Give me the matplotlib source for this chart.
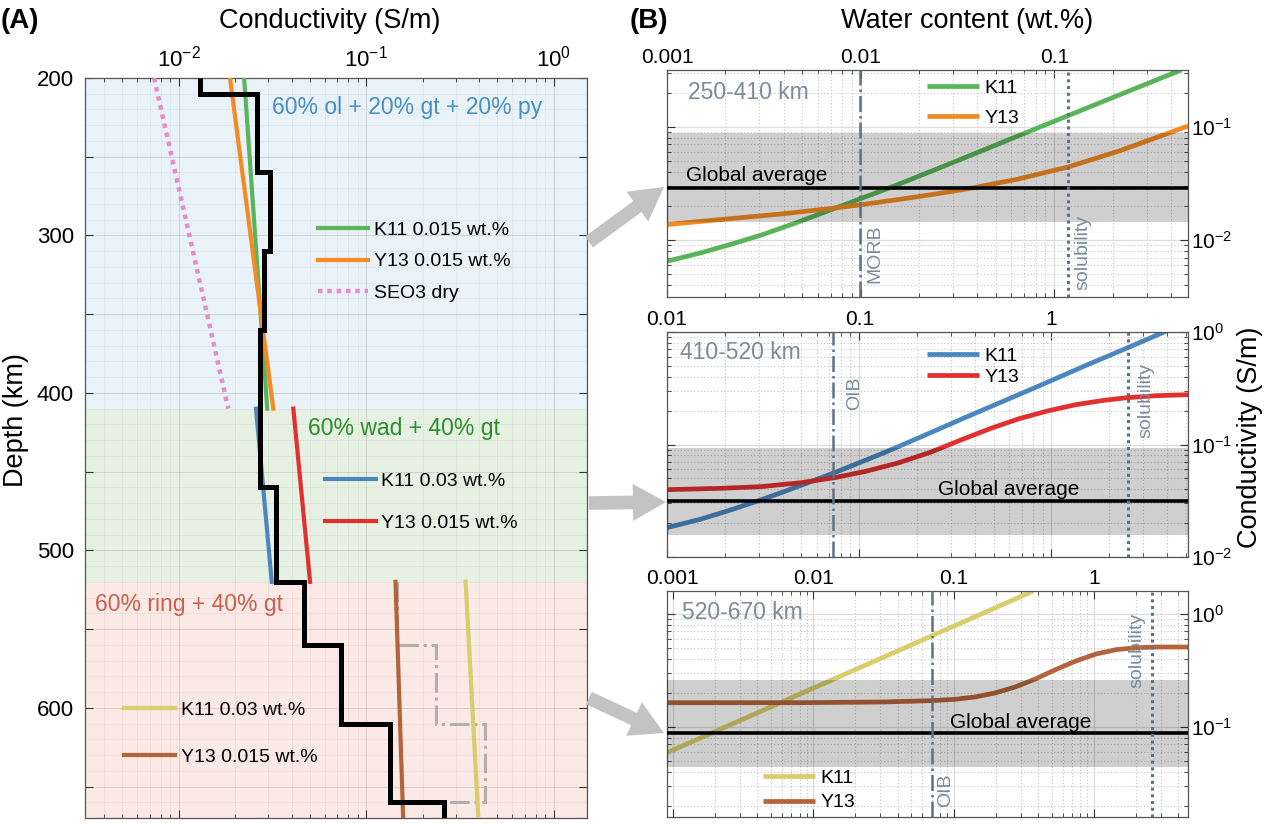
import numpy as np
import matplotlib
matplotlib.use("Agg")
import matplotlib.pyplot as plt
from matplotlib.ticker import MultipleLocator, FuncFormatter, LogLocator, NullFormatter
from matplotlib.patches import FancyArrowPatch

plt.rcParams["font.family"] = ["Liberation Sans", "DejaVu Sans"]
plt.rcParams["mathtext.fontset"] = "custom"
plt.rcParams["mathtext.rm"] = "Liberation Sans"
plt.rcParams["mathtext.it"] = "Liberation Sans:italic"
plt.rcParams["mathtext.bf"] = "Liberation Sans:bold"

W, H = 1269, 824

# ---------------- panel A: conductivity vs depth ----------------
BLACK_EDGES = [200, 210, 260, 310, 360, 460, 520, 560, 610, 660, 670]
BLACK_COND = [0.0129, 0.0261, 0.0307, 0.0285, 0.0272, 0.0331, 0.0466, 0.0734, 0.134, 0.258]
ALT_EDGES = [520, 560, 610, 660, 670]
ALT_COND = [0.146, 0.234, 0.428, 0.264]

OL_DEPTH = [200, 410]
OL_K11 = [0.0223, 0.0296]
OL_Y13 = [0.01875, 0.0319]
OL_SEO3 = [0.00738, 0.01836]
WAD_DEPTH = [410, 520]
WAD_K11 = [0.0258, 0.0313]
WAD_Y13 = [0.0408, 0.0501]
RING_DEPTH = [520, 670]
RING_K11 = [0.338, 0.395]
RING_Y13 = [0.143, 0.157]

LAYERS = [(200, 410, "#e9f1f9"), (410, 520, "#e6f1e3"), (520, 670, "#fbe9e6")]

# ---------------- panel B: conductivity vs water content ----------------
TOP_W_K11 = [0.001, 0.001488, 0.002057, 0.003086, 0.004628, 0.007229, 0.00992, 0.01383,
             0.02343, 0.04303, 0.06721, 0.1186, 0.2178, 0.4518]
TOP_C_K11 = [0.00653, 0.00773, 0.00903, 0.01114, 0.01422, 0.0189, 0.02317, 0.02858,
             0.04091, 0.06223, 0.085, 0.1259, 0.1916, 0.3162]
TOP_W_Y13 = [0.001, 0.002057, 0.003781, 0.007229, 0.00992, 0.01562, 0.02343, 0.0381,
             0.06457, 0.1186, 0.2178, 0.4898]
TOP_C_Y13 = [0.01375, 0.01542, 0.01696, 0.01916, 0.0205, 0.02284, 0.02528, 0.02896,
             0.03453, 0.04436, 0.06141, 0.1014]

MID_W_K11 = [0.01, 0.01487, 0.02086, 0.02926, 0.04106, 0.05488, 0.07592, 0.1311, 0.2127,
             0.3449, 0.5597, 0.9079, 1.473, 2.472, 3.969]
MID_C_K11 = [0.01823, 0.02162, 0.02581, 0.03124, 0.03835, 0.04611, 0.05695, 0.08288, 0.1182,
             0.1697, 0.2419, 0.3449, 0.4953, 0.7208, 1.021]
MID_W_Y13 = [0.01, 0.01894, 0.03072, 0.04983, 0.07592, 0.108, 0.1591, 0.2342, 0.3449, 0.4841,
             0.6791, 0.9528, 1.337, 1.876, 2.472, 3.518, 5.13]
MID_C_Y13 = [0.03968, 0.04077, 0.04218, 0.04577, 0.05105, 0.05774, 0.06849, 0.08518, 0.1112,
             0.1392, 0.1697, 0.1986, 0.226, 0.247, 0.2607, 0.2716, 0.2773]

BOT_W_K11 = [0.000908, 0.003, 0.01, 0.03, 0.1, 0.37]
BOT_C_K11 = [0.0587, 0.113, 0.219, 0.399, 0.773, 1.585]
BOT_W_Y13 = [0.000908, 0.0082, 0.03084, 0.06922, 0.1017, 0.1416, 0.1972, 0.2747, 0.3826,
             0.5328, 0.7423, 1.034, 1.44, 2.005, 2.793, 4.683]
BOT_C_Y13 = [0.1628, 0.1628, 0.1651, 0.1696, 0.1743, 0.1827, 0.1983, 0.2241, 0.2637,
             0.3191, 0.3805, 0.4389, 0.4795, 0.4994, 0.5062, 0.5062]

RANGES = ["250-410 km", "410-520 km", "520-670 km"]
BANDS = [(0.0145, 0.0873), (0.0156, 0.093), (0.044, 0.257)]
GLOBAL_AVG = [0.029, 0.0313, 0.0877]
REF_NAMES = ["MORB", "OIB", "OIB"]
REF_WATER = [0.0099, 0.073, 0.07]
SOLUBILITY = [0.118, 2.5, 2.6]
XLIMS = [(0.001, 0.49), (0.01, 5.13), (0.000908, 4.683)]
YLIMS = [(10 ** -2.5, 10 ** -0.5), (0.01, 1.0), (10 ** -1.8, 10 ** 0.2)]

C = dict(k11_ol="#5ab55a", y13_ol="#f58a22", seo3="#e88cc4",
         k11_wad="#4a87c0", y13_wad="#e0302f",
         k11_ring="#d9cd6c", y13_ring="#b3643b",
         alt="#b5adad", ref="#5f7186", reftxt="#7c8a99")


def fig_box(left, top, right, bottom):
    return [left / W, 1 - bottom / H, (right - left) / W, (bottom - top) / H]


fig = plt.figure(figsize=(W / 100, H / 100), dpi=100)

# ======================= panel A =======================
axA = fig.add_axes(fig_box(85, 78, 587, 818))
for top, bot, col in LAYERS:
    axA.axhspan(top, bot, color=col, lw=0, zorder=0.2)

axA.stairs(ALT_COND, ALT_EDGES, orientation="horizontal", baseline=None,
           color=C["alt"], lw=2.2, ls="-.", zorder=2)
l_k11o, = axA.plot(OL_K11, OL_DEPTH, color=C["k11_ol"], lw=3, zorder=3)
l_y13o, = axA.plot(OL_Y13, OL_DEPTH, color=C["y13_ol"], lw=3, zorder=3)
l_seo3, = axA.plot(OL_SEO3, OL_DEPTH, color=C["seo3"], lw=3.2, ls=(0, (1, 1.1)), zorder=3)
l_k11w, = axA.plot(WAD_K11, WAD_DEPTH, color=C["k11_wad"], lw=3, zorder=3)
l_y13w, = axA.plot(WAD_Y13, WAD_DEPTH, color=C["y13_wad"], lw=3, zorder=3)
l_k11r, = axA.plot(RING_K11, RING_DEPTH, color=C["k11_ring"], lw=3, zorder=3)
l_y13r, = axA.plot(RING_Y13, RING_DEPTH, color=C["y13_ring"], lw=3, zorder=3)
axA.stairs(BLACK_COND, BLACK_EDGES, orientation="horizontal", baseline=None,
           color="black", lw=3.6, zorder=4)

axA.set_xscale("log")
axA.set_xlim(10 ** -2.5, 1.5)
axA.set_ylim(670, 200)
axA.xaxis.set_label_position("top")
axA.yaxis.set_major_locator(MultipleLocator(50))
axA.yaxis.set_minor_locator(MultipleLocator(10))
axA.yaxis.set_major_formatter(FuncFormatter(lambda v, p: f"{v:.0f}" if v % 100 == 0 else ""))
axA.tick_params(axis="both", which="both", direction="in", top=True, bottom=True,
                left=True, right=True, labeltop=True, labelbottom=False,
                labelsize=16, colors="#333333", labelcolor="black")
axA.tick_params(axis="x", which="major", length=6, pad=5)
axA.tick_params(axis="x", which="minor", length=3)
axA.tick_params(axis="y", which="major", length=6, pad=8)
axA.tick_params(axis="y", which="minor", length=0)
axA.set_axisbelow(True)
axA.grid(which="major", color="black", alpha=0.12, lw=0.7)
axA.grid(which="minor", color="black", alpha=0.06, lw=0.5)
for sp in axA.spines.values():
    sp.set_color("#555555")
    sp.set_linewidth(0.9)

axA.text(0.3725, 0.9595, "60% ol + 20% gt + 20% py", transform=axA.transAxes,
         color="#4a8fc2", fontsize=16.5, va="center", ha="left")
axA.text(0.444, 0.527, "60% wad + 40% gt", transform=axA.transAxes,
         color="#2a8f2a", fontsize=16.5, va="center", ha="left")
axA.text(0.02, 0.288, "60% ring + 40% gt", transform=axA.transAxes,
         color="#c9604d", fontsize=16.5, va="center", ha="left")

leg_kw = dict(frameon=False, fontsize=14, loc="center left", borderpad=0,
              borderaxespad=0, handletextpad=0.3)
legA1 = axA.legend([l_k11o, l_y13o, l_seo3], ["K11 0.015 wt.%", "Y13 0.015 wt.%", "SEO3 dry"],
                   bbox_to_anchor=(0.464, 0.752), handlelength=2.6, labelspacing=0.72, **leg_kw)
axA.add_artist(legA1)
legA2 = axA.legend([l_k11w, l_y13w], ["K11 0.03 wt.%", "Y13 0.015 wt.%"],
                   bbox_to_anchor=(0.478, 0.427), handlelength=2.6, labelspacing=1.28, **leg_kw)
axA.add_artist(legA2)
axA.legend([l_k11r, l_y13r], ["K11 0.03 wt.%", "Y13 0.015 wt.%"],
           bbox_to_anchor=(0.078, 0.114), handlelength=2.6, labelspacing=1.5, **leg_kw)

# ======================= panel B =======================
boxes = [(70, 297), (332, 557), (591, 817)]
curves = [
    ((TOP_W_K11, TOP_C_K11, C["k11_ol"]), (TOP_W_Y13, TOP_C_Y13, C["y13_ol"])),
    ((MID_W_K11, MID_C_K11, C["k11_wad"]), (MID_W_Y13, MID_C_Y13, C["y13_wad"])),
    ((BOT_W_K11, BOT_C_K11, C["k11_ring"]), (BOT_W_Y13, BOT_C_Y13, C["y13_ring"])),
]
ref_txt = [(0.0107, 0.062, "bottom", "left"), (0.0853, 0.80, "top", "left"), (0.0762, 0.044, "bottom", "left")]
sol_txt = [(0.1276, 0.03, "bottom", "left"), (2.8, 0.862, "top", "left"), (2.32, 0.903, "top", "right")]
range_pos = [(0.04, 0.899), (0.025, 0.907), (0.029, 0.903)]
avg_pos = [(0.036, 0.537, "left"), (0.655, 0.302, "center"), (0.678, 0.42, "center")]
leg_pos = [((0.499, 0.855), 0.62), ((0.499, 0.846), 0.2), ((0.184, 0.118), 0.36)]

for i, (top, bot) in enumerate(boxes):
    ax = fig.add_axes(fig_box(667, top, 1188, bot))
    ax.set_xscale("log")
    ax.set_yscale("log")
    ax.set_xlim(*XLIMS[i])
    ax.set_ylim(*YLIMS[i])
    handles = []
    for wx, cy, col in curves[i]:
        h, = ax.plot(wx, cy, color=col, lw=3.4, zorder=2, solid_capstyle="butt",
                     solid_joinstyle="round")
        handles.append(h)
    ax.axhspan(*BANDS[i], color="black", alpha=0.19, lw=0, zorder=3)
    ax.axhline(GLOBAL_AVG[i], color="black", lw=2.6, zorder=4)
    ax.axvline(REF_WATER[i], color=C["ref"], lw=1.8, ls="-.", zorder=4)
    ax.axvline(SOLUBILITY[i], color=C["ref"], lw=2.2, ls=(0, (1, 1.2)), zorder=4)

    tx = ax.get_xaxis_transform()
    x, y, va, ha = ref_txt[i]
    ax.text(x, y, REF_NAMES[i], transform=tx, rotation=90, va=va, ha=ha,
            color=C["reftxt"], fontsize=14, zorder=5)
    x, y, va, ha = sol_txt[i]
    ax.text(x, y, "solubility", transform=tx, rotation=90, va=va, ha=ha,
            color=C["reftxt"], fontsize=14, zorder=5)
    ax.text(*range_pos[i], RANGES[i], transform=ax.transAxes, color=C["reftxt"],
            fontsize=16.5, va="center", ha="left", zorder=5)
    x, y, ha = avg_pos[i]
    ax.text(x, y, "Global average", transform=ax.transAxes, fontsize=15,
            va="center", ha=ha, zorder=5)
    anchor, ls = leg_pos[i]
    ax.legend(handles, ["K11", "Y13"], frameon=False, fontsize=14, loc="center left",
              bbox_to_anchor=anchor, borderpad=0, borderaxespad=0, handlelength=2.7,
              handletextpad=0.25, labelspacing=ls)

    ax.xaxis.set_major_locator(LogLocator(base=10, numticks=12))
    ax.xaxis.set_minor_locator(LogLocator(base=10, subs=np.arange(2, 10), numticks=12))
    ax.xaxis.set_major_formatter(FuncFormatter(lambda v, p: f"{v:g}"))
    ax.xaxis.set_minor_formatter(NullFormatter())
    ax.yaxis.set_minor_formatter(NullFormatter())
    ax.tick_params(axis="both", which="both", direction="in", top=True, bottom=True,
                   left=True, right=True, labeltop=True, labelbottom=False,
                   labelleft=False, labelright=True, labelsize=15,
                   colors="#333333", labelcolor="black")
    ax.tick_params(axis="both", which="major", length=6, pad=2)
    ax.tick_params(axis="both", which="minor", length=3)
    ax.set_axisbelow(True)
    ax.grid(which="major", color="#dddddd", lw=0.9, ls="-")
    ax.grid(which="minor", color="#c4c4c4", lw=0.8, ls=(0, (1, 2)))
    for sp in ax.spines.values():
        sp.set_color("#555555")
        sp.set_linewidth(0.9)

# ---------------- figure labels and arrows ----------------
fig.text(1 / W, 1 - 21 / H, "(A)", fontsize=20, fontweight="bold", va="center", ha="left")
fig.text(630 / W, 1 - 21 / H, "(B)", fontsize=20, fontweight="bold", va="center", ha="left")
fig.text(330 / W, 1 - 21 / H, "Conductivity (S/m)", fontsize=19.5, va="center", ha="center")
fig.text(967 / W, 1 - 21 / H, "Water content (wt.%)", fontsize=19.5, va="center", ha="center")
fig.text(16 / W, 1 - 420 / H, "Depth (km)", fontsize=19.5, va="center", ha="center", rotation=90)
fig.text(1250 / W, 1 - 437 / H, "Conductivity (S/m)", fontsize=19.5, va="center",
         ha="center", rotation=90)

ARROWS = [((589, 242), (664, 187)), ((589, 503), (666, 502)), ((589, 698), (664, 733))]
for (x0, y0), (x1, y1) in ARROWS:
    fig.patches.append(FancyArrowPatch(
        (x0 / W, 1 - y0 / H), (x1 / W, 1 - y1 / H), transform=fig.transFigure,
        arrowstyle="simple,head_width=1.9,head_length=1.7,tail_width=0.7",
        mutation_scale=14, color="#c3c3c3", lw=0, shrinkA=0, shrinkB=0))

fig.savefig("out.png", dpi=100)
